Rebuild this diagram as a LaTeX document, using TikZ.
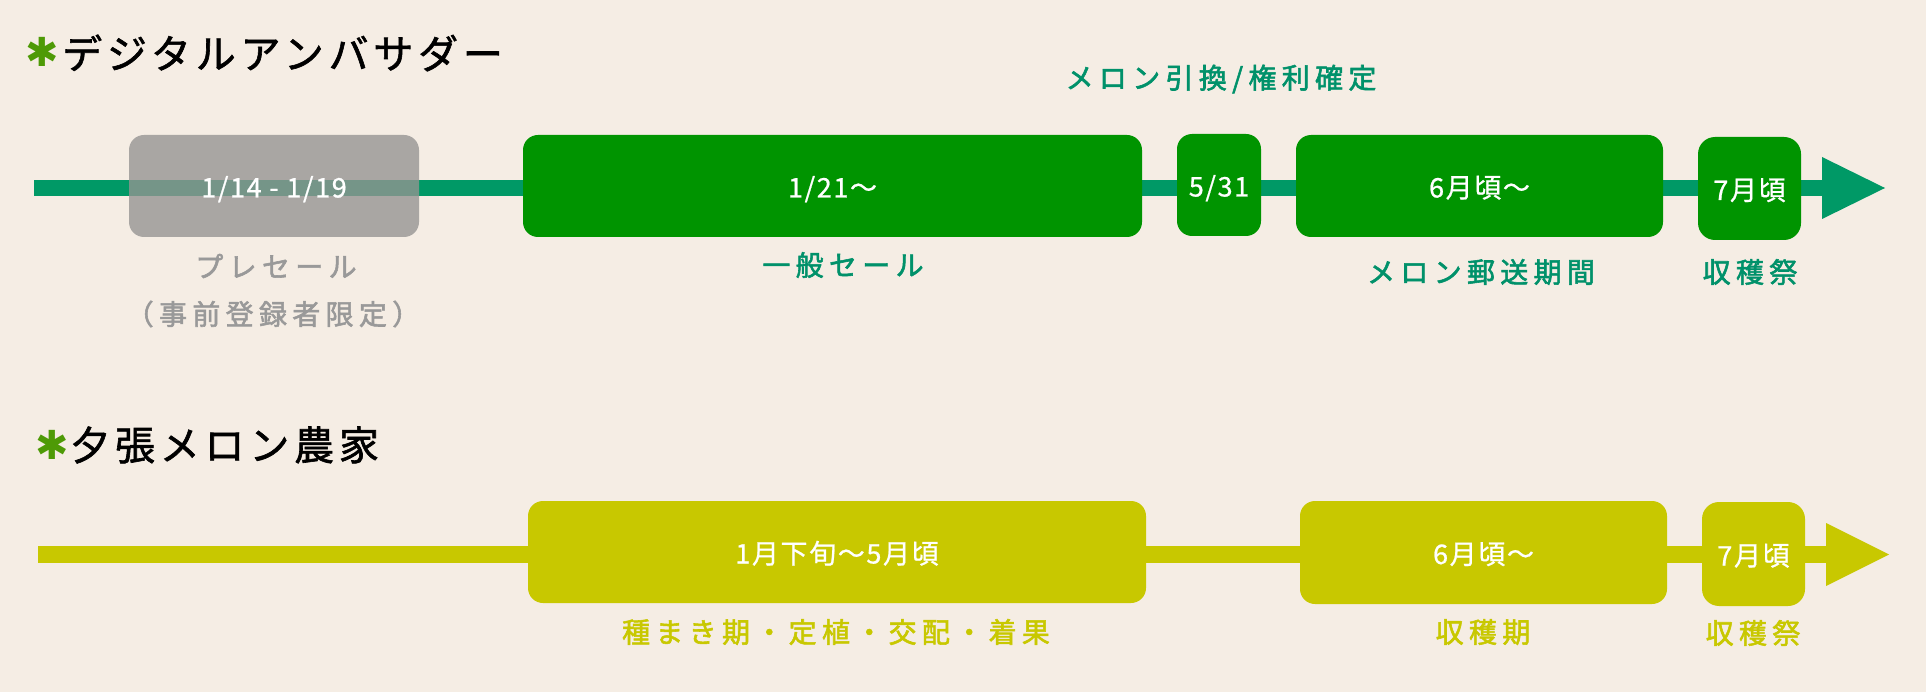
\documentclass[tikz,border=0pt]{standalone}
\usepackage{fontspec}
\newfontfamily\jp{Noto Sans CJK JP}
\newfontfamily\jptitle[LetterSpace=12,FakeBold=1.5]{Noto Sans CJK JP}
\newfontfamily\jplab[LetterSpace=19,FakeBold=2]{Noto Sans CJK JP}
\newfontfamily\jpbox[LetterSpace=6,FakeBold=0.8]{Noto Sans CJK JP}
\newfontfamily\dvs{DejaVu Sans}
\definecolor{bgc}{HTML}{F5EDE4}
\definecolor{teal}{HTML}{009966}
\definecolor{tealtext}{HTML}{00916A}
\definecolor{boxgreen}{HTML}{009400}
\definecolor{boxgray}{HTML}{959492}
\definecolor{labgray}{HTML}{999999}
\definecolor{yel}{HTML}{C8C800}
\definecolor{star}{HTML}{4E9A06}
\tikzset{
  title/.style={anchor=west, inner sep=0pt, font=\jptitle\fontsize{40}{44}\selectfont, text=black},
  starmark/.style={anchor=center, inner sep=0pt, font=\dvs\fontsize{40}{44}\selectfont, text=star},
  tline/.style={draw=teal, line width=16pt},
  yline/.style={draw=yel, line width=17pt},
  boxtext/.style={inner sep=0pt, text=white, font=\jpbox\fontsize{27}{30}\selectfont, text height=25pt, text depth=2pt},
  gbox/.style={boxtext, fill=boxgreen, rounded corners=15pt},
  ybox/.style={boxtext, fill=yel, rounded corners=15pt},
  graybox/.style={boxtext, fill=boxgray, fill opacity=0.79, text opacity=1, rounded corners=15pt},
  tlab/.style={inner sep=0pt, text=tealtext, font=\jplab\fontsize{28}{32}\selectfont},
  ylab/.style={inner sep=0pt, text=yel, font=\jplab\fontsize{28}{32}\selectfont},
  glab/.style={inner sep=0pt, text=labgray, font=\jplab\fontsize{28}{32}\selectfont, align=center},
}
\begin{document}
\begin{tikzpicture}[x=1pt,y=-1pt]
\fill[bgc] (0,0) rectangle (1926,692);
\useasboundingbox (0,0) rectangle (1926,692);

% titles
\node[starmark] (s1) at (42,52) {✱};
\node[title] (t1) at (62,53) {デジタルアンバサダー};
\node[starmark] (s2) at (52,445) {✱};
\node[title] (t2) at (70,445) {夕張メロン農家};

% top timeline
\coordinate (ta) at (34,188);
\coordinate (tb) at (1824,188);
\draw[tline] (ta) -- (tb);
\fill[teal] (1822,157) -- (1885,188) -- (1822,219) -- cycle;

\node[graybox, minimum width=290pt, minimum height=102pt] (pre) at (274,186) {1/14 - 1/19};
\node[gbox, minimum width=619pt, minimum height=102pt] (gen) at (832.5,186) {1/21～};
\node[gbox, minimum width=84pt, minimum height=102pt] (d531) at (1219,185) {5/31};
\node[gbox, minimum width=367pt, minimum height=102pt] (ship) at (1479.5,186) {6月頃～};
\node[gbox, minimum width=103pt, minimum height=103pt, rounded corners=17pt] (fes1) at (1749.5,188.5) {7月頃};

\node[tlab] (l531) at (1221,79) {メロン引換/権利確定};
\node[glab] (lpre1) at (276,266) {プレセール};
\node[glab] (lpre2) at (273,314) {（事前登録者限定）};
\node[tlab] (lgen) at (843,265) {一般セール};
\node[tlab] (lship) at (1481,272) {メロン郵送期間};
\node[tlab] (lfes1) at (1750,272) {収穫祭};

% bottom timeline
\coordinate (ba) at (38,554.5);
\coordinate (bb) at (1828,554.5);
\draw[yline] (ba) -- (bb);
\fill[yel] (1826,523) -- (1889,554.5) -- (1826,586) -- cycle;

\node[ybox, minimum width=618pt, minimum height=102pt] (grow) at (837,552) {1月下旬～5月頃};
\node[ybox, minimum width=367pt, minimum height=103pt] (harv) at (1483.5,552.5) {6月頃～};
\node[ybox, minimum width=103pt, minimum height=104pt, rounded corners=17pt] (fes2) at (1753.5,554) {7月頃};

\node[ylab] (lgrow) at (836,632) {種まき期・定植・交配・着果};
\node[ylab] (lharv) at (1483,632) {収穫期};
\node[ylab] (lfes2) at (1753,633) {収穫祭};
\end{tikzpicture}
\end{document}
